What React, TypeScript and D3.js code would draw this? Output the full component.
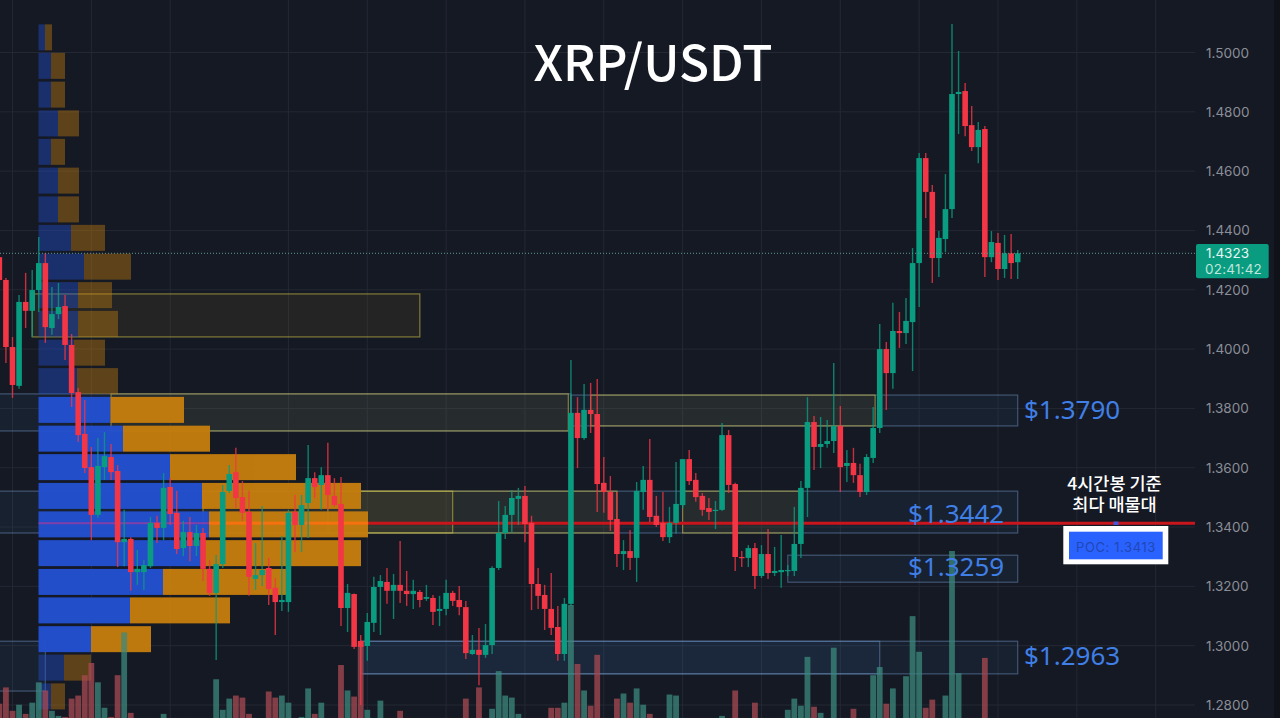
import * as d3 from 'd3';
import { useEffect, useRef } from 'react';

const width = 1280;
const height = 718;

// 4h candles, oldest first
const opens = [
    1.4310, 1.4233, 1.4007, 1.3876, 1.4159, 1.4129, 1.4199, 1.4290, 1.4071, 1.4118, 1.4145, 1.4014, 1.3855, 1.3714, 1.3602, 1.3441,
    1.3602, 1.3636, 1.3589, 1.3349, 1.3360, 1.3248, 1.3248, 1.3268, 1.3414, 1.3397, 1.3535, 1.3448, 1.3329, 1.3383, 1.3336, 1.3380,
    1.3259, 1.3178, 1.3275, 1.3522, 1.3585, 1.3501, 1.3451, 1.3225, 1.3238, 1.3262, 1.3195, 1.3147, 1.3147, 1.3451, 1.3407, 1.3481,
    1.3565, 1.3542, 1.3575, 1.3505, 1.3478, 1.3127, 1.3174, 1.3016, 1.2999, 1.3077, 1.3198, 1.3215, 1.3185, 1.3205, 1.3185, 1.3174,
    1.3181, 1.3158, 1.3161, 1.3117, 1.3124, 1.3178, 1.3154, 1.3130, 1.2972, 1.2986, 1.2969, 1.3002, 1.3262, 1.3380, 1.3441, 1.3495,
    1.3505, 1.3414, 1.3208, 1.3171, 1.3124, 1.3063, 1.2972, 1.3141, 1.3785, 1.3700, 1.3795, 1.3781, 1.3549, 1.3518, 1.3427, 1.3309,
    1.3319, 1.3296, 1.3518, 1.3559, 1.3438, 1.3414, 1.3366, 1.3414, 1.3474, 1.3629, 1.3559, 1.3505, 1.3464, 1.3454, 1.3458, 1.3710,
    1.3545, 1.3299, 1.3296, 1.3329, 1.3235, 1.3309, 1.3245, 1.3248, 1.3252, 1.3252, 1.3343, 1.3532, 1.3754, 1.3670, 1.3680, 1.3690,
    1.3741, 1.3606, 1.3616, 1.3575, 1.3518, 1.3633, 1.3734, 1.4000, 1.3919, 1.4061, 1.4054, 1.4091, 1.4290, 1.4644, 1.4530, 1.4307,
    1.4371, 1.4472, 1.4860, 1.4870, 1.4755, 1.4681, 1.4742, 1.4310, 1.4358, 1.4270, 1.4323, 1.4293,
];
const highs = [
    1.4317, 1.4240, 1.4041, 1.4182, 1.4257, 1.4267, 1.4378, 1.4324, 1.4209, 1.4223, 1.4182, 1.4051, 1.3869, 1.3828, 1.3670, 1.3700,
    1.3720, 1.3680, 1.3609, 1.3458, 1.3366, 1.3323, 1.3289, 1.3434, 1.3438, 1.3582, 1.3565, 1.3522, 1.3421, 1.3434, 1.3407, 1.3397,
    1.3289, 1.3306, 1.3542, 1.3609, 1.3667, 1.3555, 1.3522, 1.3346, 1.3471, 1.3296, 1.3228, 1.3370, 1.3458, 1.3508, 1.3508, 1.3677,
    1.3585, 1.3602, 1.3684, 1.3565, 1.3569, 1.3208, 1.3176, 1.3036, 1.3110, 1.3232, 1.3238, 1.3262, 1.3242, 1.3353, 1.3252, 1.3222,
    1.3188, 1.3205, 1.3171, 1.3168, 1.3222, 1.3185, 1.3201, 1.3151, 1.3036, 1.3060, 1.3073, 1.3268, 1.3488, 1.3471, 1.3525, 1.3532,
    1.3538, 1.3438, 1.3262, 1.3205, 1.3245, 1.3134, 1.3161, 1.3963, 1.3838, 1.3882, 1.3886, 1.3899, 1.3636, 1.3572, 1.3518, 1.3356,
    1.3390, 1.3552, 1.3606, 1.3697, 1.3505, 1.3518, 1.3468, 1.3619, 1.3629, 1.3660, 1.3582, 1.3515, 1.3498, 1.3488, 1.3751, 1.3727,
    1.3549, 1.3319, 1.3339, 1.3346, 1.3339, 1.3393, 1.3333, 1.3373, 1.3272, 1.3468, 1.3555, 1.3838, 1.3774, 1.3771, 1.3761, 1.3953,
    1.3808, 1.3660, 1.3667, 1.3613, 1.3646, 1.3805, 1.4085, 1.4024, 1.4156, 1.4125, 1.4172, 1.4341, 1.4661, 1.4661, 1.4553, 1.4398,
    1.4590, 1.5096, 1.5005, 1.4897, 1.4820, 1.4766, 1.4752, 1.4398, 1.4391, 1.4385, 1.4388, 1.4334,
];
const lows = [
    1.4216, 1.3953, 1.3835, 1.3866, 1.4071, 1.4041, 1.4125, 1.4021, 1.4048, 1.4101, 1.3963, 1.3805, 1.3687, 1.3582, 1.3356, 1.3431,
    1.3559, 1.3559, 1.3265, 1.3268, 1.3185, 1.3205, 1.3188, 1.3262, 1.3346, 1.3356, 1.3407, 1.3309, 1.3302, 1.3285, 1.3302, 1.3218,
    1.3168, 1.2952, 1.3262, 1.3515, 1.3464, 1.3421, 1.3168, 1.3188, 1.3201, 1.3137, 1.3036, 1.3117, 1.3114, 1.3316, 1.3316, 1.3363,
    1.3498, 1.3458, 1.3458, 1.3468, 1.3066, 1.3046, 1.2989, 1.2800, 1.2949, 1.3046, 1.3036, 1.3141, 1.3090, 1.3144, 1.3134, 1.3124,
    1.3130, 1.3151, 1.3070, 1.3066, 1.3103, 1.3134, 1.3103, 1.2955, 1.2969, 1.2867, 1.2959, 1.2972, 1.3255, 1.3360, 1.3380, 1.3407,
    1.3349, 1.3120, 1.3124, 1.3053, 1.3036, 1.2949, 1.2949, 1.3134, 1.3599, 1.3694, 1.3717, 1.3451, 1.3448, 1.3387, 1.3265, 1.3255,
    1.3255, 1.3215, 1.3458, 1.3417, 1.3400, 1.3353, 1.3346, 1.3377, 1.3464, 1.3542, 1.3485, 1.3438, 1.3424, 1.3393, 1.3454, 1.3515,
    1.3252, 1.3265, 1.3265, 1.3191, 1.3228, 1.3225, 1.3235, 1.3195, 1.3235, 1.3235, 1.3296, 1.3434, 1.3592, 1.3599, 1.3667, 1.3650,
    1.3518, 1.3552, 1.3549, 1.3501, 1.3508, 1.3616, 1.3717, 1.3795, 1.3866, 1.4004, 1.4017, 1.3926, 1.4142, 1.4442, 1.4223, 1.4243,
    1.4327, 1.4442, 1.4725, 1.4718, 1.4668, 1.4627, 1.4243, 1.4293, 1.4233, 1.4240, 1.4236, 1.4236,
];
const closes = [
    1.4233, 1.4007, 1.3879, 1.4159, 1.4129, 1.4199, 1.4290, 1.4074, 1.4118, 1.4142, 1.4014, 1.3852, 1.3710, 1.3599, 1.3441, 1.3606,
    1.3639, 1.3585, 1.3349, 1.3360, 1.3248, 1.3259, 1.3272, 1.3414, 1.3397, 1.3532, 1.3444, 1.3326, 1.3383, 1.3336, 1.3380, 1.3259,
    1.3178, 1.3275, 1.3518, 1.3579, 1.3498, 1.3448, 1.3232, 1.3238, 1.3255, 1.3191, 1.3147, 1.3154, 1.3448, 1.3407, 1.3474, 1.3565,
    1.3535, 1.3575, 1.3508, 1.3474, 1.3127, 1.3178, 1.2996, 1.2996, 1.3080, 1.3198, 1.3218, 1.3185, 1.3205, 1.3185, 1.3174, 1.3185,
    1.3154, 1.3164, 1.3114, 1.3124, 1.3178, 1.3151, 1.3130, 1.2975, 1.2986, 1.2969, 1.3002, 1.3262, 1.3380, 1.3441, 1.3498, 1.3505,
    1.3410, 1.3208, 1.3168, 1.3124, 1.3060, 1.2972, 1.3141, 1.3785, 1.3700, 1.3795, 1.3781, 1.3545, 1.3518, 1.3424, 1.3309, 1.3319,
    1.3296, 1.3522, 1.3559, 1.3434, 1.3407, 1.3366, 1.3414, 1.3478, 1.3629, 1.3555, 1.3501, 1.3458, 1.3451, 1.3458, 1.3710, 1.3542,
    1.3299, 1.3296, 1.3329, 1.3235, 1.3309, 1.3245, 1.3252, 1.3255, 1.3255, 1.3343, 1.3532, 1.3754, 1.3670, 1.3680, 1.3690, 1.3741,
    1.3602, 1.3616, 1.3575, 1.3518, 1.3636, 1.3734, 1.4000, 1.3919, 1.4061, 1.4054, 1.4095, 1.4290, 1.4644, 1.4530, 1.4307, 1.4375,
    1.4472, 1.4860, 1.4867, 1.4752, 1.4681, 1.4739, 1.4310, 1.4361, 1.4270, 1.4323, 1.4290, 1.4323,
];
const volumes = [
    17, 33, 10, 16, 7, 18, 38, 30, 10, 5, 4, 22, 25, 45, 57, 38,
    13, 4, 45, 87, 8, 3, 3, 3, 3, 7, 3, 3, 3, 3, 3, 3,
    3, 41, 11, 22, 25, 23, 7, 3, 2, 29, 23, 25, 18, 3, 4, 32,
    7, 18, 3, 3, 55, 30, 24, 78, 11, 3, 20, 3, 3, 10, 3, 3,
    3, 3, 3, 3, 3, 3, 3, 22, 3, 33, 3, 12, 49, 25, 23, 7,
    3, 3, 3, 3, 13, 13, 18, 114, 56, 30, 15, 65, 3, 3, 22, 27,
    18, 32, 16, 7, 3, 3, 26, 25, 3, 3, 3, 3, 3, 3, 5, 3,
    30, 3, 3, 18, 3, 3, 3, 3, 11, 22, 15, 63, 14, 8, 3, 72,
    3, 3, 12, 3, 3, 45, 53, 17, 32, 2, 44, 103, 68, 13, 21, 3,
    25, 167, 47, 3, 3, 3, 62, 3, 2, 2, 2, 2,
];

// volume profile, top row first
const profilePrices = [
    1.5051, 1.4955, 1.4858, 1.4761, 1.4665, 1.4568, 1.4471, 1.4375, 1.4278, 1.4182, 1.4085, 1.3988,
    1.3892, 1.3795, 1.3698, 1.3602, 1.3505, 1.3409, 1.3312, 1.3215, 1.3119, 1.3022, 1.2926, 1.2829,
];
const profileBuy = [
    6.5, 12.5, 12.5, 19.5, 12.5, 19.5, 19.5, 32.5, 45.5, 39.5, 39.5, 35.5,
    38.5, 72, 84.5, 131.5, 163.5, 170.5, 166.5, 124.5, 91.5, 52.5, 25.5, 12.5,
];
const profileSell = [
    7, 14, 14, 21, 14, 21, 21, 34, 47, 34, 40, 31,
    41, 73.5, 87, 126, 159, 159, 156, 126, 100, 60, 27, 14,
];
const valueAreaPrices = [1.3795, 1.3698, 1.3602, 1.3505, 1.3409, 1.3312, 1.3215, 1.3119, 1.3022];
const pocRowBuy = 170.5;

const priceTicks = [1.5, 1.48, 1.46, 1.44, 1.42, 1.4, 1.38, 1.36, 1.34, 1.32, 1.3, 1.28];
const gridBars = [2, 14, 26, 44, 56, 68, 80, 92, 104, 116, 128, 140, 152, 164, 176];

// drawn zones: bar index from/to and price top/bottom
const blueZones = [
    { from: -1, to: 87, top: 1.3849, bottom: 1.3724 },
    { from: 87, to: 155, top: 1.3845, bottom: 1.3741 },
    { from: -1, to: 155, top: 1.3521, bottom: 1.338 },
    { from: 120, to: 155, top: 1.3305, bottom: 1.3214 },
    { from: 55, to: 155, top: 1.3015, bottom: 1.2905 },
    { from: 55, to: 134, top: 1.3015, bottom: 1.2905 },
    { from: -1, to: 7, top: 1.3015, bottom: 1.2847 },
];
const yellowZones = [
    { from: 5, to: 64, top: 1.4186, bottom: 1.4041 },
    { from: 17, to: 86.6, top: 1.3849, bottom: 1.3724 },
    { from: 90, to: 133.3, top: 1.3845, bottom: 1.3741 },
    { from: 31, to: 69, top: 1.3521, bottom: 1.338 },
    { from: 50, to: 94, top: 1.3521, bottom: 1.338 },
    { from: 104, to: 122, top: 1.3521, bottom: 1.338 },
];

const lastPrice = 1.4323;
const pocPrice = 1.3413;
const zoneLabels = [
    { text: '$1.3790', x: 1024, y: 419 },
    { text: '$1.3442', x: 908, y: 523 },
    { text: '$1.3259', x: 908, y: 576 },
    { text: '$1.2963', x: 1024, y: 665 },
];

const bg = '#151924';
const up = '#0a9c80';
const down = '#f23645';

const App = () => {
    const svgRef = useRef<SVGSVGElement>(null);

    useEffect(() => {
        const svg = d3.select(svgRef.current);
        svg.selectAll('*').remove();

        const chartRight = 1195;
        const x = d3.scaleLinear().domain([0, 155]).range([-0.65, 1017.7]);
        const y = d3.scaleLinear().domain([1.28, 1.5]).range([705, 52.5]);
        const profileX = d3.scaleLinear().domain([0, 330]).range([38.5, 368.5]);
        const volumeY = d3.scaleLinear().domain([0, 167]).range([721, 551]);

        const bars = d3.range(opens.length);
        const isUp = (i: number) => closes[i] >= opens[i];
        const colorOf = (i: number) => (isUp(i) ? up : down);

        svg.append('rect').attr('width', width).attr('height', height).attr('fill', bg);
        svg.append('rect').attr('x', 1274).attr('width', 6).attr('height', height).attr('fill', '#0f1219');

        // Grid
        svg.append('g')
            .selectAll('line')
            .data(priceTicks)
            .enter()
            .append('line')
            .attr('x1', 0)
            .attr('x2', chartRight)
            .attr('y1', (d) => y(d))
            .attr('y2', (d) => y(d))
            .attr('stroke', '#242833')
            .attr('stroke-width', 1);
        svg.append('g')
            .selectAll('line')
            .data(gridBars)
            .enter()
            .append('line')
            .attr('x1', (d) => x(d))
            .attr('x2', (d) => x(d))
            .attr('y1', 0)
            .attr('y2', height)
            .attr('stroke', '#242833')
            .attr('stroke-width', 1);

        // Zones
        svg.append('g')
            .selectAll('rect')
            .data(blueZones)
            .enter()
            .append('rect')
            .attr('x', (d) => x(d.from))
            .attr('width', (d) => x(d.to) - x(d.from))
            .attr('y', (d) => y(d.top))
            .attr('height', (d) => y(d.bottom) - y(d.top))
            .attr('fill', 'rgba(70,130,200,0.075)')
            .attr('stroke', 'rgba(125,165,215,0.42)')
            .attr('stroke-width', 1.2);
        svg.append('g')
            .selectAll('rect')
            .data(yellowZones)
            .enter()
            .append('rect')
            .attr('x', (d) => x(d.from))
            .attr('width', (d) => x(d.to) - x(d.from))
            .attr('y', (d) => y(d.top))
            .attr('height', (d) => y(d.bottom) - y(d.top))
            .attr('fill', 'rgba(210,170,30,0.075)')
            .attr('stroke', 'rgba(200,185,70,0.6)')
            .attr('stroke-width', 1.2);

        // Volume profile
        const rowHeight = 26;
        const profile = svg
            .append('g')
            .selectAll('g')
            .data(profilePrices)
            .enter()
            .append('g')
            .attr('opacity', (d) => (valueAreaPrices.includes(d) ? 0.97 : 0.42));
        profile
            .append('rect')
            .attr('x', profileX(0))
            .attr('y', (d) => y(d) - rowHeight / 2)
            .attr('height', rowHeight)
            .attr('width', (_, i) => profileX(profileBuy[i]) - profileX(0))
            .attr('fill', '#2350cf');
        profile
            .append('rect')
            .attr('x', (_, i) => profileX(profileBuy[i]))
            .attr('y', (d) => y(d) - rowHeight / 2)
            .attr('height', rowHeight)
            .attr('width', (_, i) => profileX(profileBuy[i] + profileSell[i]) - profileX(profileBuy[i]))
            .attr('fill', '#c47d0e');

        // Volume
        svg.append('g')
            .selectAll('rect')
            .data(bars)
            .enter()
            .append('rect')
            .attr('x', (i) => x(i) - 2.9)
            .attr('width', 5.8)
            .attr('y', (i) => volumeY(volumes[i]))
            .attr('height', (i) => volumeY(0) - volumeY(volumes[i]))
            .attr('fill', (i) => (isUp(i) ? '#3b8a7c' : '#a84a52'))
            .attr('opacity', 0.75);

        // POC line, thin across the profile
        svg.append('rect')
            .attr('x', profileX(0))
            .attr('width', profileX(pocRowBuy) - profileX(0))
            .attr('y', y(pocPrice) - 1)
            .attr('height', 2)
            .attr('fill', '#a83a9c')
            .attr('opacity', 0.7);
        svg.append('rect')
            .attr('x', profileX(pocRowBuy))
            .attr('width', profileX(330) - profileX(pocRowBuy))
            .attr('y', y(pocPrice) - 1.5)
            .attr('height', 3)
            .attr('fill', '#f5700f');
        svg.append('line')
            .attr('x1', profileX(330))
            .attr('x2', chartRight)
            .attr('y1', y(pocPrice))
            .attr('y2', y(pocPrice))
            .attr('stroke', '#c9151c')
            .attr('stroke-width', 3);

        // Candles
        svg.append('g')
            .selectAll('line')
            .data(bars)
            .enter()
            .append('line')
            .attr('x1', (i) => x(i))
            .attr('x2', (i) => x(i))
            .attr('y1', (i) => y(highs[i]))
            .attr('y2', (i) => y(lows[i]))
            .attr('stroke', colorOf)
            .attr('stroke-opacity', 0.8)
            .attr('stroke-width', 1.4);
        svg.append('g')
            .selectAll('rect')
            .data(bars)
            .enter()
            .append('rect')
            .attr('x', (i) => x(i) - 2.8)
            .attr('width', 5.6)
            .attr('y', (i) => y(Math.max(opens[i], closes[i])))
            .attr('height', (i) => Math.max(1.2, Math.abs(y(opens[i]) - y(closes[i]))))
            .attr('fill', colorOf);

        // Last price
        svg.append('line')
            .attr('x1', 0)
            .attr('x2', chartRight)
            .attr('y1', y(lastPrice))
            .attr('y2', y(lastPrice))
            .attr('stroke', '#5f9c92')
            .attr('stroke-width', 1)
            .attr('stroke-dasharray', '1 2');

        // Price axis
        const axisFont = 'Inter, "Noto Sans", sans-serif';
        svg.append('g')
            .selectAll('text')
            .data(priceTicks)
            .enter()
            .append('text')
            .attr('x', 1206)
            .attr('y', (d) => y(d) + 5)
            .attr('font-family', axisFont)
            .attr('font-size', 13.5)
            .attr('fill', '#8b8e97')
            .text((d) => d3.format('.4f')(d));
        svg.append('rect')
            .attr('x', 1196)
            .attr('y', 244)
            .attr('width', 72.7)
            .attr('height', 34.3)
            .attr('rx', 2)
            .attr('fill', '#0a9c80');
        svg.append('text')
            .attr('x', 1206)
            .attr('y', y(lastPrice) + 5)
            .attr('font-family', axisFont)
            .attr('font-size', 13.5)
            .attr('fill', '#e6f5f1')
            .text(d3.format('.4f')(lastPrice));
        svg.append('text')
            .attr('x', 1205)
            .attr('y', 274)
            .attr('font-family', axisFont)
            .attr('font-size', 13.5)
            .attr('letter-spacing', 0.2)
            .attr('fill', '#bfe6dc')
            .text('02:41:42');

        // Zone labels
        svg.append('g')
            .selectAll('text')
            .data(zoneLabels)
            .enter()
            .append('text')
            .attr('x', (d) => d.x)
            .attr('y', (d) => d.y)
            .attr('font-family', '"Noto Sans", sans-serif')
            .attr('font-size', 26)
            .attr('fill', '#3f7fe6')
            .text((d) => d.text);

        // Title
        svg.append('text')
            .attr('x', 653)
            .attr('y', 81)
            .attr('text-anchor', 'middle')
            .attr('font-family', '"Noto Sans CJK KR", "Noto Sans", sans-serif')
            .attr('font-weight', 500)
            .attr('font-size', 49.5)
            .attr('fill', '#ffffff')
            .text('XRP/USDT');

        // POC callout
        const krFont = '"Noto Sans CJK KR", sans-serif';
        svg.append('text')
            .attr('x', 1114.5)
            .attr('y', 490)
            .attr('text-anchor', 'middle')
            .attr('font-family', krFont)
            .attr('font-weight', 500)
            .attr('font-size', 17.5)
            .attr('fill', '#ffffff')
            .text('4시간봉 기준');
        svg.append('text')
            .attr('x', 1114.5)
            .attr('y', 511)
            .attr('text-anchor', 'middle')
            .attr('font-family', krFont)
            .attr('font-weight', 500)
            .attr('font-size', 17.5)
            .attr('fill', '#ffffff')
            .text('최다 매물대');
        svg.append('rect').attr('x', 1113.5).attr('y', 521.5).attr('width', 5).attr('height', 3.5).attr('fill', '#4a56d8');
        svg.append('rect').attr('x', 1063.3).attr('y', 526).attr('width', 105).attr('height', 38.3).attr('fill', '#ffffff');
        svg.append('rect').attr('x', 1069).attr('y', 531.7).attr('width', 93.7).attr('height', 27.6).attr('fill', '#2962ff');
        svg.append('text')
            .attr('x', 1116)
            .attr('y', 552)
            .attr('text-anchor', 'middle')
            .attr('font-family', axisFont)
            .attr('font-size', 13)
            .attr('letter-spacing', 0.6)
            .attr('fill', '#2148b4')
            .text(`POC: ${d3.format('.4f')(pocPrice)}`);
    }, []);

    return <svg ref={svgRef} width={width} height={height} style={{ position: 'fixed', left: 0, top: 0 }}></svg>;
};

export default App;
